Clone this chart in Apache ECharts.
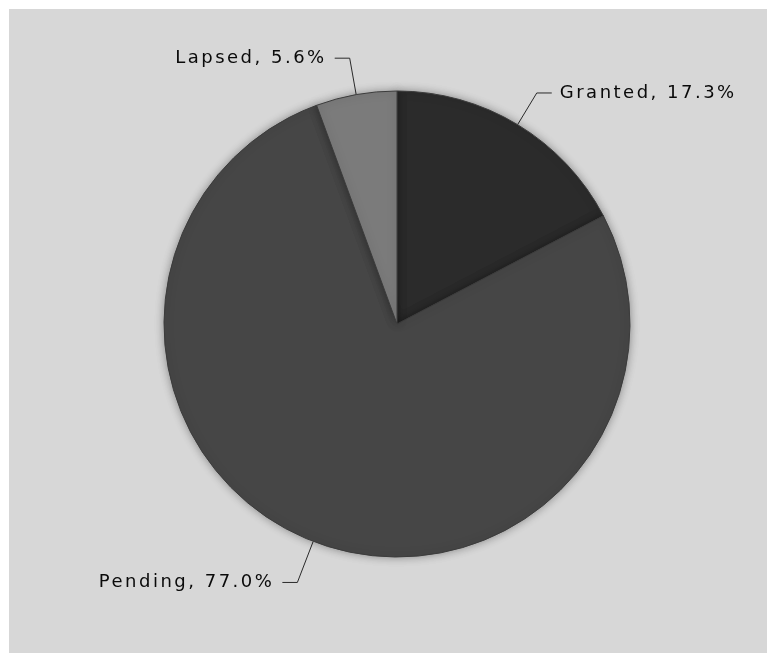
<!DOCTYPE html>
<html>
<head>
<meta charset="utf-8">
<script src="https://cdn.jsdelivr.net/npm/echarts@6/dist/echarts.min.js"></script>
<style>
  html, body { margin: 0; padding: 0; background: #ffffff; }
  #chart { width: 767px; height: 653px; }
</style>
</head>
<body>
<div id="chart"></div>
<script>
// Widen glyph spacing like the reference's pixel font
(function () {
  var orig = HTMLCanvasElement.prototype.getContext;
  HTMLCanvasElement.prototype.getContext = function (type, opts) {
    var ctx = orig.call(this, type, opts);
    if (ctx && type === '2d' && 'letterSpacing' in ctx) { ctx.letterSpacing = '2.5px'; }
    return ctx;
  };
})();

const categories = ['Granted', 'Pending', 'Lapsed'];
const values = [17.3, 77.0, 5.6];
const colors = ['#2b2b2b', '#464646', '#7b7b7b'];
const lineLengths = [37, 44, 37];

const chart = echarts.init(document.getElementById('chart'), null, { renderer: 'canvas' });
chart.setOption({
  backgroundColor: '#ffffff',
  animation: false,
  graphic: [{
    type: 'rect', z: -10,
    shape: { x: 9, y: 9, width: 767, height: 653 },
    style: { fill: '#d7d7d7' }
  }],
  series: [{
    type: 'pie',
    center: [397, 324],
    radius: 233,
    startAngle: 90,
    clockwise: true,
    avoidLabelOverlap: false,
    data: categories.map((c, i) => ({
      name: c, value: values[i],
      itemStyle: { color: colors[i] },
      labelLine: { length: lineLengths[i] }
    })),
    itemStyle: {
      borderColor: '#3c3c3c',
      borderWidth: 1,
      shadowBlur: 8,
      shadowColor: 'rgba(0,0,0,0.35)'
    },
    label: {
      show: true,
      formatter: p => p.name + ', ' + values[p.dataIndex].toFixed(1) + '%',
      fontFamily: 'DejaVu Sans',
      fontSize: 18,
      color: '#0a0a0a',
      padding: [5, 0, 0, 0],
      distanceToLabelLine: 8
    },
    labelLine: {
      show: true,
      length2: 15,
      lineStyle: { color: '#2a2a2a', width: 1 }
    }
  }]
});
</script>
</body>
</html>
